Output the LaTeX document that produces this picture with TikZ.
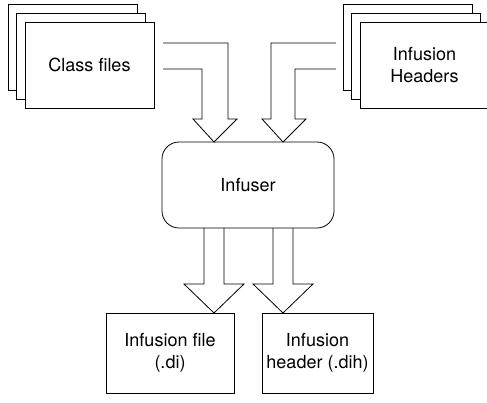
\documentclass[tikz,border=0pt]{standalone}
\usepackage{fontspec}
\setmainfont{TeX Gyre Heros}
\usetikzlibrary{positioning,calc}

\begin{document}
\begin{tikzpicture}[x=1pt,y=-1pt,line width=0.8pt,
  font=\fontsize{18}{21.6}\selectfont,
  sheet/.style={draw,fill=white,minimum width=129pt,minimum height=86pt,
                inner sep=0pt,outer sep=0pt,align=center},
  outbox/.style={draw,minimum height=80pt,inner sep=0pt,outer sep=0pt,align=center},
  fatarrow/.style={draw,line join=miter}]
\useasboundingbox (0,0) rectangle (487,403);
% ---------- input stacks ----------
\foreach \d in {2,1}{
  \draw[fill=white] (89.5-8.5*\d,65-9*\d) +(-64.5,-43) rectangle +(64.5,43);
  \draw[fill=white] (424.5-8.5*\d,65-9*\d) +(-64.5,-43) rectangle +(64.5,43);
}
\node[sheet] (cls) at (89.5,65) {Class files};
\node[sheet] (hdr) at (424.5,65) {Infusion\\Headers};
% ---------- the tool ----------
\node[draw,rounded corners=17pt,minimum width=172pt,minimum height=86pt,
      inner sep=0pt,outer sep=0pt] (inf) at (248,185) {Infuser};
% ---------- outputs ----------
\node[outbox,minimum width=128pt] (di) at (170,353) {Infusion file\\(.di)};
\node[outbox,minimum width=111pt] (dih) at (317.5,353) {Infusion\\header (.dih)};
% ---------- block arrows ----------
\coordinate (t1) at ($(inf.north west)+(52,0)$);
\coordinate (t2) at ($(inf.north west)+(121,0)$);
\draw[fatarrow] ($(cls.east)+(9,4)$) -- ++(39,0) -- ++(0,50) -- ++(-9,0)
  -- (t1) -- ++(23,-23) -- ++(-9,0) -- ++(0,-76) -- ++(-65,0);
\draw[fatarrow] ($(hdr.west)+(-24,4)$) -- ++(-41,0) -- ++(0,50) -- ++(11,0)
  -- (t2) -- ++(-21,-23) -- ++(9,0) -- ++(0,-76) -- ++(65,0);
\foreach \t in {t1,t2}{
  \coordinate (b) at (\t |- di.north);
  \draw[fatarrow] (\t |- inf.south) ++(-10,0) -- ++(0,56) -- ++(-20,0)
    -- (b) -- ++(30,-29) -- ++(-20,0) -- ++(0,-56);
}
\end{tikzpicture}
\end{document}
